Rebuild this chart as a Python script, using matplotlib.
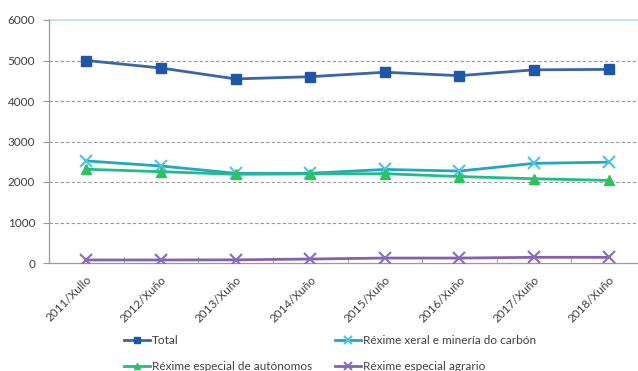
import matplotlib
matplotlib.use("Agg")
import matplotlib.pyplot as plt

plt.rcParams['font.family'] = ['Lato', 'DejaVu Sans']

categories = ["2011/Xullo", "2012/Xuño", "2013/Xuño", "2014/Xuño",
              "2015/Xuño", "2016/Xuño", "2017/Xuño", "2018/Xuño"]
total = [5000, 4815, 4545, 4600, 4710, 4625, 4770, 4780]
xeral = [2520, 2395, 2215, 2215, 2310, 2270, 2460, 2490]
autonomos = [2315, 2255, 2190, 2200, 2205, 2135, 2080, 2040]
agrario = [75, 75, 78, 98, 122, 122, 140, 140]

series_names = ["Total", "Réxime xeral e minería do carbón",
                "Réxime especial de autónomos", "Réxime especial agrario"]
yticks = [0, 1000, 2000, 3000, 4000, 5000, 6000]

W, H = 638, 371
fig = plt.figure(figsize=(W / 100, H / 100), dpi=100)
fig.patch.set_facecolor('white')
left, right, top, bottom = 49, 646, 20, 263
ax = fig.add_axes([left / W, 1 - bottom / H, (right - left) / W, (bottom - top) / H])

x = list(range(len(categories)))
h_total, = ax.plot(x, total, color='#3A66A8', lw=2, marker='s', ms=7,
                   mfc='#1F56A5', mec='#1F56A5', label=series_names[0], zorder=5)
h_xeral, = ax.plot(x, xeral, color='#21A6C4', lw=2, marker='x', ms=8, mew=1.5,
                   mec='#4FC3E0', label=series_names[1], zorder=4)
h_aut, = ax.plot(x, autonomos, color='#22BC8C', lw=2, marker='^', ms=7,
                 mfc='#2DC25F', mec='#2DC25F', label=series_names[2], zorder=4)
h_agr, = ax.plot(x, agrario, color='#8560B0', lw=2, marker='x', ms=8, mew=1.5,
                 mec='#8A6CBF', label=series_names[3], zorder=4)

ax.set_xlim(-0.5, len(categories) - 0.5)
ax.set_ylim(0, 6000)
ax.set_yticks(yticks)
ax.set_yticklabels([str(v) for v in yticks], fontsize=8.5, color='#404040')
for v in yticks[1:-1]:
    ax.axhline(v, color='#9A9A9A', lw=0.8, ls=(0, (3, 2)), zorder=1)
ax.axhline(6000, color='#B8E0E8', lw=1.2, zorder=1, clip_on=False)

ax.set_xticks(x)
ax.set_xticklabels(categories, rotation=45, ha='right', va='top',
                   rotation_mode='anchor', fontsize=8.5, color='#404040')
ax.tick_params(axis='x', length=0, pad=8)
ax.tick_params(axis='y', length=4, direction='out', color='#9A9A9A', pad=6)
ax.set_xticks([i + 0.5 for i in range(len(categories) - 1)], minor=True)
ax.tick_params(axis='x', which='minor', length=4, direction='in', color='#9A9A9A')

for s in ['top', 'right']:
    ax.spines[s].set_visible(False)
for s in ['left', 'bottom']:
    ax.spines[s].set_color('#9A9A9A')
    ax.spines[s].set_linewidth(0.9)

handles = [h_total, h_aut, h_xeral, h_agr]
labels = [h.get_label() for h in handles]
leg = fig.legend(handles, labels, ncol=2, loc='upper left',
                 bbox_to_anchor=(124 / W, 1 - 335 / H), frameon=False,
                 fontsize=8.5, handlelength=2.2, handletextpad=0.15,
                 columnspacing=2.0, labelspacing=1.3, borderaxespad=0,
                 markerscale=0.7, borderpad=0)
for t in leg.get_texts():
    t.set_color('#404040')

fig.savefig("out.png", dpi=100, facecolor='white')
